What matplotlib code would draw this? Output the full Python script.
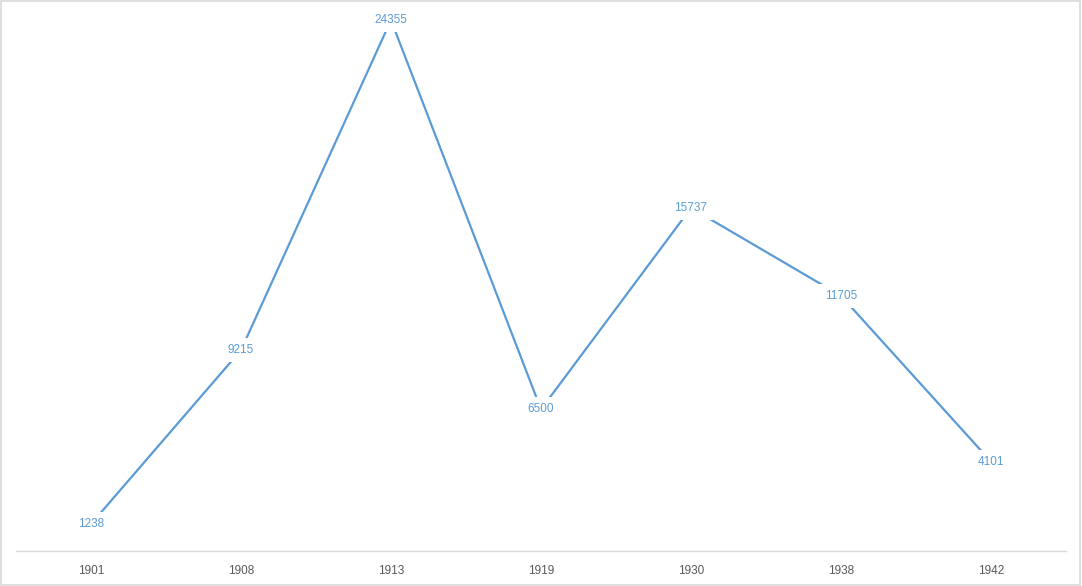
import matplotlib
matplotlib.use("Agg")
import matplotlib.pyplot as plt
import matplotlib.patches as patches

years = ["1901", "1908", "1913", "1919", "1930", "1938", "1942"]
values = [1238, 9215, 24355, 6500, 15737, 11705, 4101]

line_color = "#5B9BD5"
text_color = "#595959"
grid_color = "#D9D9D9"

plt.rcParams['font.family'] = ['Liberation Sans', 'DejaVu Sans']

fig = plt.figure(figsize=(10.82, 5.86), dpi=100)
ax = fig.add_axes([16 / 1082, 35 / 586, 1050 / 1082, 545 / 586])

x = list(range(len(years)))
ax.plot(x, values, color=line_color, linewidth=1.6, solid_capstyle='butt', zorder=2)

# Datenbeschriftungen mit weißem Hintergrund (unterbricht die Linie)
for xi, v in zip(x, values):
    ax.text(xi, v, str(v), ha="center", va="center", fontsize=8.5, color=line_color,
            bbox=dict(boxstyle="square,pad=0.5", facecolor="white", edgecolor="none"), zorder=3)

ax.set_xlim(-0.5, len(years) - 0.5)
ax.set_ylim(0, 25000)
ax.set_xticks(x)
ax.set_xticklabels(years, fontsize=8.5, color=text_color)
ax.tick_params(axis='x', length=0, pad=10)
ax.set_yticks([])

for side in ['top', 'left', 'right']:
    ax.spines[side].set_visible(False)
ax.spines['bottom'].set_color(grid_color)
ax.spines['bottom'].set_linewidth(1.0)

# Rahmen um die Grafik
border = patches.Rectangle((0.0005, 0.001), 0.998, 0.997, transform=fig.transFigure,
                           fill=False, edgecolor=grid_color, linewidth=1.2)
fig.patches.append(border)

plt.savefig("out.png", dpi=100)
plt.close()
